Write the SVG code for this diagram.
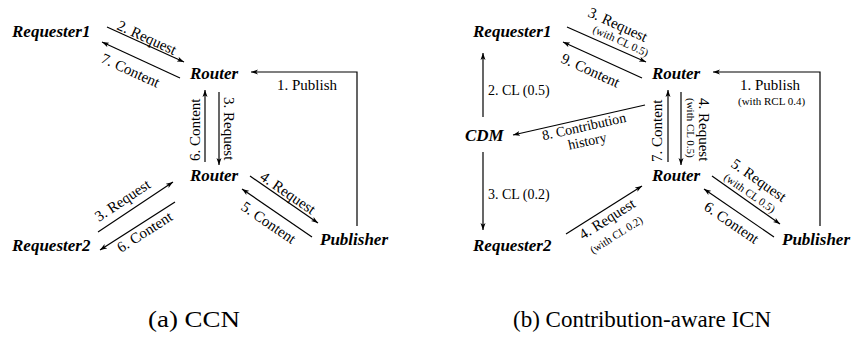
<svg xmlns="http://www.w3.org/2000/svg" width="853" height="338" viewBox="0 0 853 338">
<style>
.node{font-family:"Liberation Serif","Times New Roman",serif;font-weight:bold;font-style:italic;font-size:17px;fill:#000}
.lbl{font-family:"Liberation Serif","Times New Roman",serif;font-size:15px;fill:#000}
.sm{font-family:"Liberation Serif","Times New Roman",serif;font-size:11px;fill:#000}
.cl{font-family:"Liberation Serif","Times New Roman",serif;font-size:14px;fill:#000}
.cap{font-family:"Liberation Serif","Times New Roman",serif;font-size:23px;fill:#000}
.e{stroke:#000;stroke-width:1.2;fill:none;marker-end:url(#ah)}
</style>
<defs>
<marker id="ah" markerWidth="8" markerHeight="6" refX="7" refY="3" orient="auto" markerUnits="userSpaceOnUse">
<path d="M0,0.5 L7,3 L0,5.5 L1.8,3 z" fill="#000"/>
</marker>
</defs>
<rect width="853" height="338" fill="#fff"/>
<g id="connectors">
<path class="e" d="M357,226 V72 H251"/>
<line class="e" x1="107" y1="27" x2="184" y2="62"/>
<line class="e" x1="180" y1="78" x2="102" y2="42"/>
<line class="e" x1="205" y1="162" x2="205" y2="90"/>
<line class="e" x1="219" y1="92" x2="219" y2="165"/>
<line class="e" x1="98" y1="232" x2="173" y2="182"/>
<line class="e" x1="175" y1="202" x2="100" y2="250"/>
<line class="e" x1="250" y1="176" x2="318" y2="223"/>
<line class="e" x1="312" y1="237" x2="242" y2="189"/>
<path class="e" d="M820,226 V72 H713"/>
<line class="e" x1="567" y1="27" x2="646" y2="62"/>
<line class="e" x1="642" y1="78" x2="563" y2="42"/>
<line class="e" x1="483" y1="117" x2="483" y2="53"/>
<line class="e" x1="483" y1="152" x2="483" y2="230"/>
<line class="e" x1="645" y1="105" x2="513" y2="135"/>
<line class="e" x1="668" y1="162" x2="668" y2="90"/>
<line class="e" x1="681" y1="92" x2="681" y2="165"/>
<line class="e" x1="566" y1="234" x2="642" y2="186"/>
<line class="e" x1="712" y1="176" x2="780" y2="224"/>
<line class="e" x1="774" y1="237" x2="704" y2="189"/>
</g>
<g id="edge-labels">
<text class="lbl" transform="translate(116,29) rotate(24.4)">2. Request</text>
<text class="lbl" transform="translate(100,62) rotate(24.4)">7. Content</text>
<text class="lbl" x="277" y="90">1. Publish</text>
<text class="lbl" transform="translate(200,161) rotate(-90)">6. Content</text>
<text class="lbl" transform="translate(224,97) rotate(90)">3. Request</text>
<text class="lbl" transform="translate(99,222) rotate(-33.7)">3. Request</text>
<text class="lbl" transform="translate(121,253) rotate(-32.6)">6. Content</text>
<text class="lbl" transform="translate(259,179) rotate(34.6)">4. Request</text>
<text class="lbl" transform="translate(240,209) rotate(34.5)">5. Content</text>
<text class="lbl" transform="translate(587,16) rotate(24.4)">3. Request</text>
<text class="sm" font-size="10" transform="translate(592,32) rotate(24.4)">(with CL 0.5)</text>
<text class="lbl" transform="translate(560,62) rotate(24.4)">9. Content</text>
<text class="cl" x="488" y="95">2. CL (0.5)</text>
<text class="cl" x="488" y="199">3. CL (0.2)</text>
<text class="lbl" x="740" y="90">1. Publish</text>
<text class="sm" x="738" y="105">(with RCL 0.4)</text>
<text class="lbl" transform="translate(662,162) rotate(-90)">7. Content</text>
<text class="lbl" transform="translate(699,98) rotate(90)">4. Request</text>
<text class="sm" transform="translate(687,98) rotate(90)">(with CL 0.5)</text>
<g transform="translate(585,131) rotate(-12.5)">
<text class="cl" text-anchor="middle" x="0" y="0">8. Contribution</text>
<text class="cl" text-anchor="middle" x="0" y="15">history</text>
</g>
<text class="lbl" transform="translate(583,240) rotate(-32.3)">4. Request</text>
<text class="sm" transform="translate(593,254) rotate(-32.3)">(with CL 0.2)</text>
<text class="lbl" transform="translate(730,166) rotate(35)">5. Request</text>
<text class="sm" transform="translate(723,179) rotate(35)">(with CL 0.5)</text>
<text class="lbl" transform="translate(703,209) rotate(34.5)">6. Content</text>
</g>
<g id="n-requester1-a"><text class="node" x="12" y="37">Requester1</text></g>
<g id="n-router-top-a"><text class="node" x="190" y="79">Router</text></g>
<g id="n-router-bot-a"><text class="node" x="190" y="181">Router</text></g>
<g id="n-requester2-a"><text class="node" x="12" y="251">Requester2</text></g>
<g id="n-publisher-a"><text class="node" x="320" y="245">Publisher</text></g>
<g id="n-requester1-b"><text class="node" x="473" y="37">Requester1</text></g>
<g id="n-router-top-b"><text class="node" x="652" y="79">Router</text></g>
<g id="n-cdm-b"><text class="node" x="465" y="141">CDM</text></g>
<g id="n-router-bot-b"><text class="node" x="652" y="181">Router</text></g>
<g id="n-requester2-b"><text class="node" x="473" y="251">Requester2</text></g>
<g id="n-publisher-b"><text class="node" x="782" y="245">Publisher</text></g>
<g id="captions">
<text class="cap" x="148" y="327" textLength="92" lengthAdjust="spacingAndGlyphs">(a) CCN</text>
<text class="cap" x="513" y="327" textLength="258" lengthAdjust="spacingAndGlyphs">(b) Contribution-aware ICN</text>
</g>
</svg>
